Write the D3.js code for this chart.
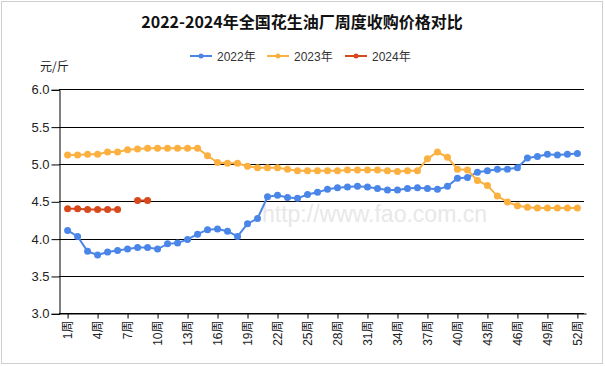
<!DOCTYPE html>
<html>
<head>
<meta charset="utf-8">
<script src="https://cdn.jsdelivr.net/npm/d3@7"></script>
<style>
  body { margin: 0; background: #fff; }
  svg { display: block; font-family: "Liberation Sans", Arial, "Noto Sans CJK SC", sans-serif; }
</style>
</head>
<body>
<svg id="chart" width="605" height="366"></svg>
<script>
// weeks 1..52
var weeks = d3.range(1, 53);
var tickWeeks = [1, 4, 7, 10, 13, 16, 19, 22, 25, 28, 31, 34, 37, 40, 43, 46, 49, 52];
var yTicks = [3.0, 3.5, 4.0, 4.5, 5.0, 5.5, 6.0];

var v2022 = [4.11, 4.03, 3.83, 3.78, 3.82, 3.84, 3.86, 3.88, 3.88, 3.86,
             3.93, 3.94, 3.99, 4.06, 4.12, 4.13, 4.10, 4.03, 4.20, 4.27,
             4.56, 4.58, 4.55, 4.54, 4.59, 4.62, 4.66, 4.68, 4.69, 4.70,
             4.69, 4.67, 4.65, 4.65, 4.67, 4.68, 4.67, 4.66, 4.70, 4.81,
             4.82, 4.89, 4.91, 4.93, 4.93, 4.95, 5.08, 5.10, 5.13, 5.12,
             5.13, 5.14];
var v2023 = [5.12, 5.12, 5.13, 5.13, 5.16, 5.16, 5.19, 5.20, 5.21, 5.21,
             5.21, 5.21, 5.21, 5.21, 5.11, 5.02, 5.01, 5.01, 4.97, 4.95,
             4.95, 4.95, 4.93, 4.91, 4.91, 4.91, 4.91, 4.91, 4.92, 4.92,
             4.92, 4.92, 4.91, 4.90, 4.91, 4.91, 5.07, 5.16, 5.09, 4.93,
             4.92, 4.78, 4.71, 4.57, 4.49, 4.44, 4.42, 4.41, 4.41, 4.41,
             4.41, 4.41];
var v2024 = [4.40, 4.40, 4.39, 4.39, 4.39, 4.39, null, 4.51, 4.51];

var seriesNames = ["2022年", "2023年", "2024年"];
var seriesColors = ["#4a86e8", "#fbb040", "#d8481d"];
var seriesValues = [v2022, v2023, v2024];

var svg = d3.select("#chart");

svg.append("rect")
    .attr("x", 1.5).attr("y", 1.5)
    .attr("width", 601).attr("height", 362)
    .attr("fill", "#fff")
    .attr("stroke", "#cfcfcf");

var plotLeft = 59, plotRight = 586, plotTop = 89.3, plotBottom = 313.3;

var x = d3.scalePoint().domain(weeks).range([plotLeft, plotRight]).padding(0.86);
var y = d3.scaleLinear().domain([3, 6]).range([plotBottom, plotTop]);

// title
svg.append("text")
    .attr("x", 302).attr("y", 28)
    .attr("text-anchor", "middle")
    .attr("font-family", "'Noto Sans CJK SC', sans-serif")
    .attr("font-weight", "bold")
    .attr("font-size", "16px")
    .attr("fill", "#111")
    .text("2022-2024年全国花生油厂周度收购价格对比");

// unit
svg.append("text")
    .attr("x", 40).attr("y", 71)
    .attr("font-family", "'Noto Sans CJK SC', sans-serif")
    .attr("font-size", "12px")
    .attr("fill", "#222")
    .text("元/斤");

// legend
var legendX = [190, 267, 345];
var lg = svg.append("g");
seriesNames.forEach(function (name, i) {
    var lx = legendX[i];
    lg.append("line")
        .attr("x1", lx).attr("x2", lx + 22)
        .attr("y1", 56).attr("y2", 56)
        .attr("stroke", seriesColors[i]).attr("stroke-width", 2);
    lg.append("circle")
        .attr("cx", lx + 11).attr("cy", 56).attr("r", 2.5)
        .attr("fill", seriesColors[i]);
    lg.append("text")
        .attr("x", lx + 27).attr("y", 60.5)
        .attr("font-size", "12px")
        .attr("fill", "#333")
        .text(name);
});

// watermark
svg.append("text")
    .attr("x", 262).attr("y", 222)
    .attr("font-size", "23px")
    .attr("fill", "#e8e8e8")
    .text("http://www.fao.com.cn");

// gridlines
svg.append("g")
    .selectAll("line")
    .data(yTicks)
    .enter().append("line")
    .attr("x1", plotLeft).attr("x2", plotRight - 2)
    .attr("y1", function (d) { return Math.round(y(d)) + 0.5; })
    .attr("y2", function (d) { return Math.round(y(d)) + 0.5; })
    .attr("stroke", "#000").attr("stroke-width", 1);

// y axis
var gy = svg.append("g")
    .attr("transform", "translate(" + (plotLeft + 0.5) + ",0.5)")
    .call(d3.axisLeft(y).tickValues(yTicks).tickFormat(d3.format(".1f")).tickSize(8).tickPadding(2));
gy.select(".domain").attr("stroke", "#000");
gy.selectAll("text").attr("font-size", "13px").attr("fill", "#222")
    .attr("font-family", "'Liberation Sans', Arial, sans-serif");

// x axis
var gx = svg.append("g")
    .attr("transform", "translate(0," + (Math.round(plotBottom) + 0.5) + ")")
    .call(d3.axisBottom(x).tickValues(tickWeeks).tickSize(5).tickSizeOuter(0)
        .tickFormat(function (d) { return d + "周"; }));
gx.select(".domain").attr("stroke", "#000");
gx.selectAll("text")
    .attr("font-size", "12px")
    .attr("fill", "#222")
    .attr("font-family", "'Liberation Sans', 'Noto Sans CJK SC', sans-serif")
    .attr("text-anchor", "end")
    .attr("transform", "rotate(-90)")
    .attr("x", -7).attr("y", 0).attr("dy", "0.35em");

// series
var line = d3.line()
    .defined(function (d) { return d != null; })
    .x(function (d, i) { return x(weeks[i]); })
    .y(function (d) { return y(d); });

seriesValues.forEach(function (vals, k) {
    var g = svg.append("g");
    g.append("path")
        .datum(vals)
        .attr("fill", "none")
        .attr("stroke", seriesColors[k])
        .attr("stroke-width", 2)
        .attr("d", line);
    g.selectAll("circle")
        .data(vals.map(function (v, i) { return { w: weeks[i], v: v }; })
            .filter(function (d) { return d.v != null; }))
        .enter().append("circle")
        .attr("cx", function (d) { return x(d.w); })
        .attr("cy", function (d) { return y(d.v); })
        .attr("r", 3.5)
        .attr("fill", seriesColors[k]);
});
</script>
</body>
</html>
